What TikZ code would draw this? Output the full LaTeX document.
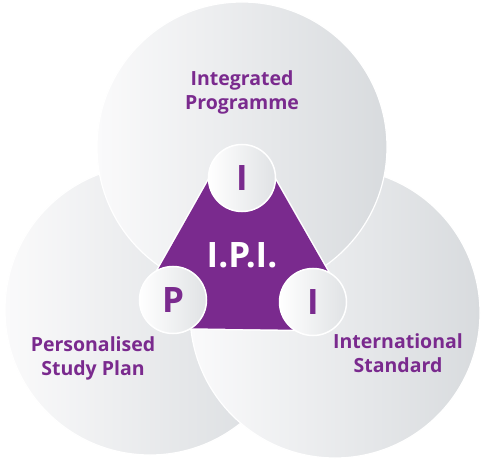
\documentclass[tikz,border=0pt]{standalone}
\usepackage{fontspec}
\setmainfont{Open Sans}
\usetikzlibrary{positioning}

\definecolor{ipipurple}{HTML}{7A2A8E}
\definecolor{softwhite}{HTML}{FAFAFB}
\definecolor{softgray}{HTML}{D8DBDE}

\tikzset{
  bigcirc/.style={circle, minimum size=290pt, inner sep=0pt, draw=white, line width=1.2pt,
    left color=softwhite, right color=softgray},
  smallcirc/.style={circle, minimum size=67pt, inner sep=0pt, draw=white, line width=1.5pt,
    left color=white, right color=softgray!80, text=ipipurple,
    font=\fontsize{35}{35}\selectfont\bfseries},
  caption/.style={align=center, text=ipipurple, font=\fontsize{19.5}{24}\selectfont\bfseries}
}

\begin{document}
\begin{tikzpicture}[x=1pt,y=-1pt]
        \useasboundingbox (0,0) rectangle (483,460);
        % three big discs
        \node[bigcirc] (leftcirc) at (150,310) {};
        \node[bigcirc] (rightcirc) at (335,313) {};
        \node[bigcirc] (topcirc) at (242,147) {};
        % purple middle
        \coordinate (ctop) at (242,178);
        \coordinate (cleft) at (173,300);
        \coordinate (cright) at (313,302);
        \draw[white, line width=59pt, line join=round] (ctop)--(cleft)--(cright)--cycle;
        \filldraw[ipipurple, line width=56pt, line join=round] (ctop)--(cleft)--(cright)--cycle;
        \node[text=white, font=\fontsize{35}{35}\selectfont\bfseries] (ipi) at (242,255) {I.P.I.};
        % small discs
        \node[smallcirc] (itop) at (ctop) {I};
        \node[smallcirc] (pleft) at (cleft) {P};
        \node[smallcirc] (iright) at (cright) {I};
        % captions
        \node[caption] (integ) at (242,92) {Integrated\\Programme};
        \node[caption] (perso) at (93,358) {Personalised\\Study Plan};
        \node[caption] (inter) at (398,353) {International\\Standard};
\end{tikzpicture}
\end{document}
